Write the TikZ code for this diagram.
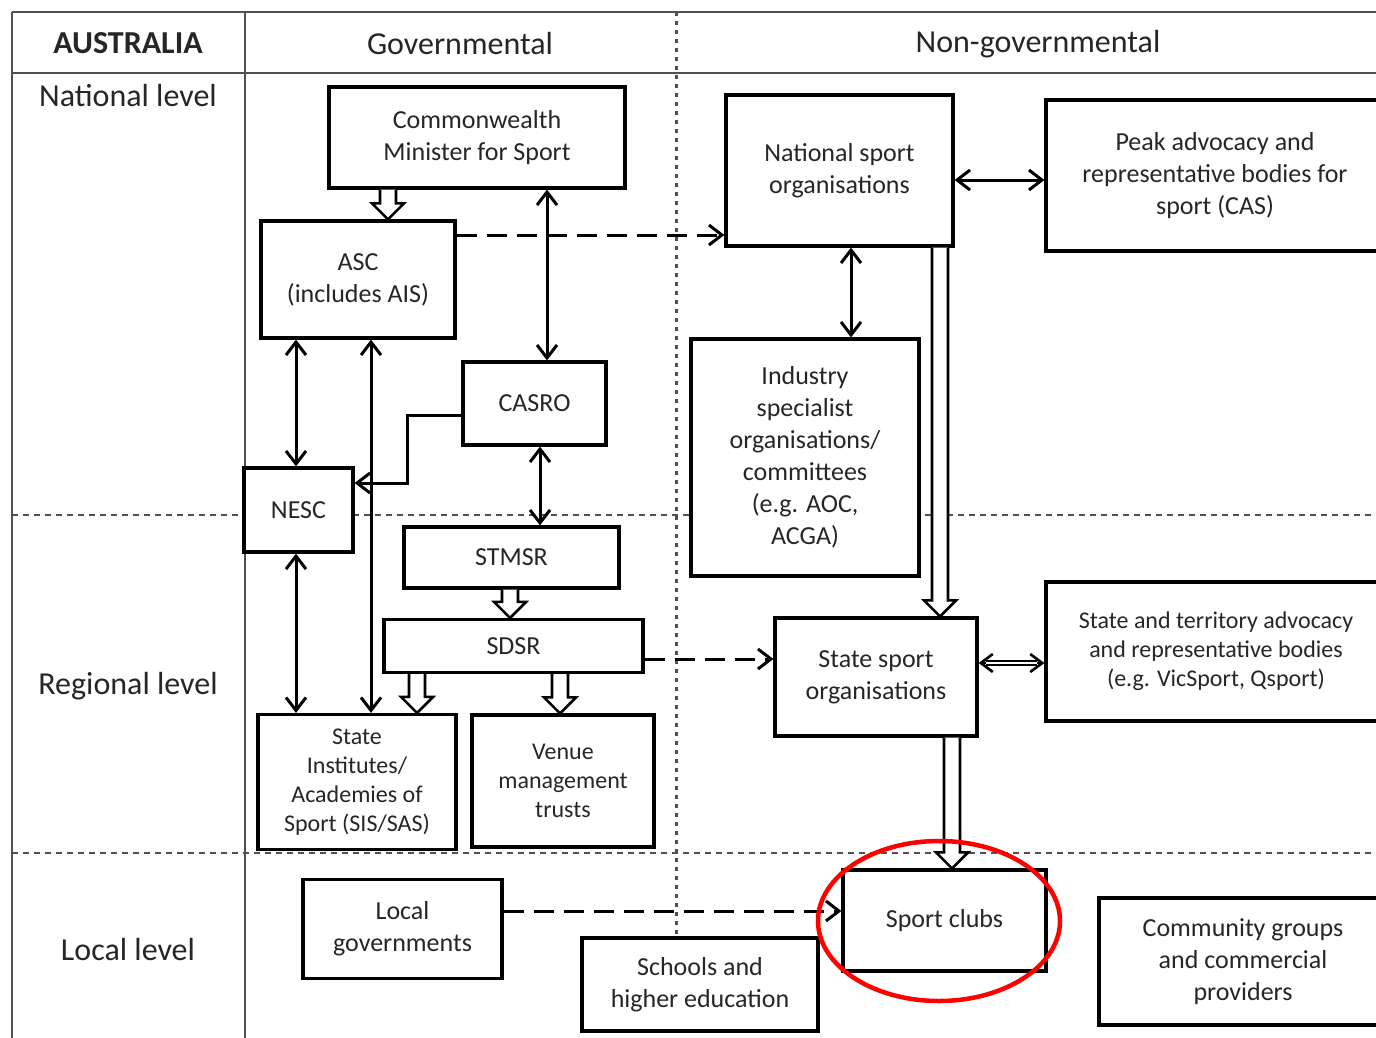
\documentclass[tikz,border=0pt]{standalone}
\usepackage{fontspec}
\setmainfont{Carlito}
\usetikzlibrary{arrows.meta,calc}
\definecolor{txt}{HTML}{262626}
\definecolor{gridc}{HTML}{505050}
\newcommand\blockarrow[3]{%
  \draw[line width=2.6pt, line join=miter, fill=white] let \p1=(#2), \p2=(#3), \p3=(#1,0) in
   (\x3-8pt,\y1) -- (\x3-8pt,\y2+16pt) -- (\x3-16pt,\y2+16pt) -- (\x3,\y2)
   -- (\x3+16pt,\y2+16pt) -- (\x3+8pt,\y2+16pt) -- (\x3+8pt,\y1);}
\begin{document}
\begin{tikzpicture}[x=1pt,y=-1pt,
  box/.style={draw, fill=white, line width=3.2pt, rectangle, inner sep=0pt, align=center,
    font=\fontsize{26}{32}\selectfont, text=txt},
  smallbox/.style={box, font=\fontsize{24}{29}\selectfont},
  hdr/.style={font=\fontsize{32}{38}\selectfont, text=txt, inner sep=0pt},
  grid/.style={line width=2.2pt, draw=gridc},
  hdash/.style={line width=2.6pt, draw=gridc, dash pattern=on 6pt off 5pt},
  vdot/.style={line width=3pt, draw=gridc, dash pattern=on 4pt off 5pt},
  tip/.tip={Straight Barb[length=13pt,width=20pt]},
  arr/.style={line width=3pt, -tip},
  dbl/.style={line width=3pt, tip-tip},
  darr/.style={line width=3pt, -tip, dash pattern=on 20pt off 10pt}
]
\useasboundingbox (0,0) rectangle (1376,1038);
\clip (0,0) rectangle (1376,1038);
\fill[white] (0,0) rectangle (1376,1038);

% grid
\draw[grid] (12,12) -- (1376,12);
\draw[grid] (12,73) -- (1376,73);
\draw[grid] (12,12) -- (12,1038);
\draw[grid] (245,12) -- (245,1038);
\draw[vdot] (676,12) -- (676,1038);
\draw[hdash] (12,515) -- (1376,515);
\draw[hdash] (12,853) -- (1376,853);

% headers
\node[hdr] (hA) at (128,43) {\textbf{AUSTRALIA}};
\node[hdr] (hG) at (460,44) {Governmental};
\node[hdr] (hN) at (1038,44) {Non-governmental};
\node[hdr] (lN) at (128,96) {National level};
\node[hdr] (lR) at (128,686) {Regional level};
\node[hdr] (lL) at (128,949) {Local level};

% boxes
\node[box, minimum width=296, minimum height=101] (cmw) at (477,137.5) {Commonwealth\\Minister for Sport};
\node[box, minimum width=194, minimum height=117] (asc) at (358,279.5) {ASC\\(includes AIS)};
\node[box, minimum width=143, minimum height=83] (casro) at (534.5,403.5) {CASRO};
\node[box, minimum width=109, minimum height=84] (nesc) at (298.5,510) {NESC};
\node[box, minimum width=215, minimum height=61] (stmsr) at (511.5,557.5) {STMSR};
\node[box, minimum width=259, minimum height=53] (sdsr) at (513.5,646) {SDSR};
\node[smallbox, minimum width=198, minimum height=135] (sis) at (357,782) {State\\Institutes/\\Academies of\\Sport (SIS/SAS)};
\node[smallbox, minimum width=182, minimum height=132] (venue) at (563,781) {Venue\\management\\trusts};
\node[box, minimum width=227, minimum height=151] (nso) at (839.5,170.5) {National sport\\organisations};
\node[box, minimum width=338, minimum height=151] (peak) at (1215,175.5) {Peak advocacy and\\representative bodies for\\sport (CAS)};
\node[box, minimum width=228, minimum height=237] (ind) at (805,457.5) {Industry\\specialist\\organisations/\\committees\\(e.g. AOC,\\ACGA)};
\node[box, minimum width=202, minimum height=118] (sso) at (876,677) {State sport\\organisations};
\node[smallbox, minimum width=340, minimum height=139] (sta) at (1216,651.5) {State and territory advocacy\\and representative bodies\\(e.g. VicSport, Qsport)};
\node[box, minimum width=203, minimum height=101] (clubs) at (944.5,920.5) {Sport clubs};
\node[box, minimum width=199, minimum height=99] (lg) at (402.5,929) {Local\\governments};
\node[box, minimum width=236, minimum height=93] (sch) at (700,984.5) {Schools and\\higher education};
\node[box, minimum width=288, minimum height=127] (comm) at (1243,961.5) {Community groups\\and commercial\\providers};

% connectors
\blockarrow{388}{cmw.south}{asc.north}
\draw[dbl] (cmw.south -| 547,0) -- (casro.north -| 547,0);
\draw[darr] (asc.east |- 0,235) -- (nso.west |- 0,235);
\draw[dbl] (asc.south -| 296,0) -- (nesc.north -| 296,0);
\draw[dbl] (asc.south -| 371,0) -- (sis.north -| 371,0);
\draw[arr, line join=miter] (casro.west |- 0,415) -| (407,483) -- (nesc.east |- 0,483);
\draw[dbl] (casro.south -| 540,0) -- (stmsr.north -| 540,0);
\draw[dbl] (nesc.south -| 296,0) -- (sis.north -| 296,0);
\blockarrow{510}{stmsr.south}{sdsr.north}
\blockarrow{417}{sdsr.south}{sis.north}
\blockarrow{560}{sdsr.south}{venue.north}
\draw[darr] (sdsr.east |- 0,659) -- (sso.west |- 0,659);
\draw[dbl] (nso.east |- 0,180) -- (peak.west |- 0,180);
\draw[dbl] (nso.south -| 851,0) -- (ind.north -| 851,0);
\blockarrow{940}{nso.south}{sso.north}
\draw[line width=2.6pt, {Straight Barb[length=12pt,width=18pt]}-{Straight Barb[length=12pt,width=18pt]}] (sso.east |- 0,663) -- (sta.west |- 0,663);
\draw[line width=1.8pt, double, double distance=2.4pt, shorten <=7pt, shorten >=7pt] (sso.east |- 0,663) -- (sta.west |- 0,663);
\blockarrow{952}{sso.south}{clubs.north}
\draw[darr] (lg.east |- 0,911) -- (clubs.west |- 0,911);

% highlight
\draw[red, line width=4.5pt] (939,921) ellipse [x radius=121, y radius=80];
\end{tikzpicture}
\end{document}
